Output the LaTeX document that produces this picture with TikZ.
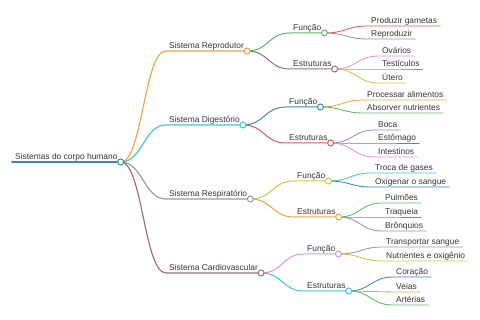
\documentclass[tikz,border=0pt]{standalone}
\usepackage{fontspec}
\setmainfont{Liberation Sans}
\definecolor{txt}{HTML}{333333}
\definecolor{c1}{HTML}{3A86C4}
\definecolor{c2}{HTML}{F5A142}
\definecolor{c3}{HTML}{5DB75D}
\definecolor{c4}{HTML}{DE5A5A}
\definecolor{c5}{HTML}{A287CC}
\definecolor{c6}{HTML}{9A7068}
\definecolor{c7}{HTML}{EB8FCF}
\definecolor{c8}{HTML}{999999}
\definecolor{c9}{HTML}{C8C948}
\definecolor{c10}{HTML}{3FC6D6}
\begin{document}
\begin{tikzpicture}[x=1pt,y=-1pt,line cap=round,
  topic/.style={anchor=south west,inner xsep=3pt,inner ysep=2.5pt,text depth=0pt,
    font=\fontsize{8.4}{10}\selectfont,text=txt},
  knob/.style={draw=#1,fill=white,line width=1pt}]
\useasboundingbox (0,0) rectangle (480,320);

% root
\node[topic] (root) at (12,162) {Sistemas do corpo humano};
\draw[c1,line width=1.6pt] (root.south west) -- (root.south east);

% systems
\foreach \t/\y/\c/\n in {Sistema Reprodutor/51/c2/rep,Sistema Digestório/125/c10/dig,
  Sistema Respiratório/199/c8/res,Sistema Cardiovascular/273/c6/car}{
  \node[topic] (\n) at (166,\y) {\t};
  \draw[\c,line width=1.15pt] (root.south east) .. controls +(22,0) and +(-22,0) .. (\n.south west) -- (\n.south east);
}

% function / structure
\foreach \p/\t/\x/\y/\c/\n in {rep/Função/290/33/c3/repf,rep/Estruturas/290/69/c6/repe,
  dig/Função/286/107/c1/digf,dig/Estruturas/286/143/c4/dige,
  res/Função/294/181/c9/resf,res/Estruturas/294/217/c2/rese,
  car/Função/304/254/c7/carf,car/Estruturas/304/291/c10/care}{
  \node[topic] (\n) at (\x,\y) {\t};
  \draw[\c,line width=1pt] (\p.south east) .. controls +(22,0) and +(-22,0) .. (\n.south west) -- (\n.south east);
}

% leaves
\foreach \p/\t/\x/\y/\c [count=\k] in {repf/Produzir gametas/368/26/c4,repf/Reproduzir/368/39/c5,
  repe/Ovários/379/56/c7,repe/Testículos/379/69/c8,repe/Útero/379/83/c9,
  digf/Processar alimentos/364/100/c2,digf/Absorver nutrientes/364/113/c3,
  dige/Boca/375/130/c5,dige/Estômago/375/143/c6,dige/Intestinos/375/157/c7,
  resf/Troca de gases/372/173/c10,resf/Oxigenar o sangue/372/187/c1,
  rese/Pulmões/382/203/c3,rese/Traqueia/382/217/c4,rese/Brônquios/382/231/c5,
  carf/Transportar sangue/383/247/c8,carf/Nutrientes e oxigênio/383/261/c9,
  care/Coração/393/277/c1,care/Veias/393/292/c2,care/Artérias/393/305/c3}{
  \node[topic] (leaf\k) at (\x,\y) {\t};
  \draw[\c,line width=.85pt] (\p.south east) .. controls +(22,0) and +(-22,0) .. (leaf\k.south west) -- (leaf\k.south east);
}

% knobs on top
\foreach \n/\c in {root/c1,rep/c2,dig/c10,res/c8,car/c6,repf/c3,repe/c6,digf/c1,dige/c4,
  resf/c9,rese/c2,carf/c7,care/c10}
  \draw[knob=\c] (\n.south east) circle[radius=3pt];
\end{tikzpicture}
\end{document}
